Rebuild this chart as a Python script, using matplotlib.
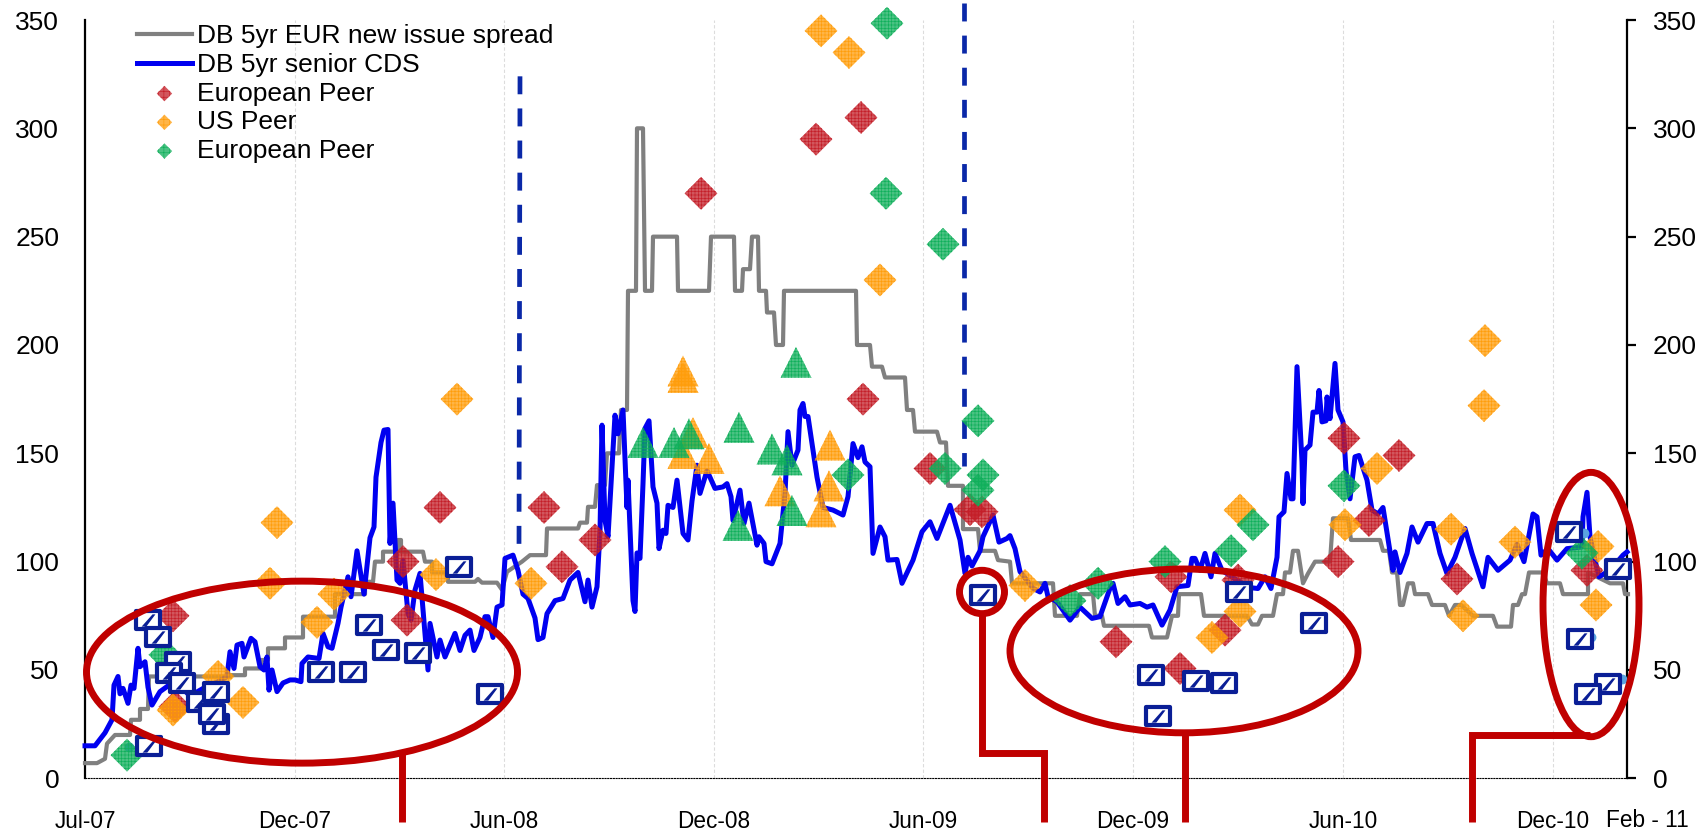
#!/usr/bin/env python3
"""DB 5yr funding spread vs CDS, with peer issuance markers (Jul-07 to Feb-11)."""

import matplotlib
matplotlib.use("Agg")
import matplotlib.pyplot as plt
from matplotlib.patches import Ellipse
from matplotlib.path import Path

plt.rcParams["font.family"] = ["Liberation Sans", "DejaVu Sans"]
plt.rcParams["hatch.linewidth"] = 0.45

# x is an observation index along the time axis, y is spread in bp
tick_pos = [0, 210, 419, 629, 838, 1048, 1258, 1468]
tick_labels = ["Jul-07", "Dec-07", "Jun-08", "Dec-08", "Jun-09", "Dec-09", "Jun-10", "Dec-10"]
y_ticks = [0, 50, 100, 150, 200, 250, 300, 350]

cds_x = [0, 10, 15, 20, 27, 29, 33, 35, 38, 43, 46, 49, 53, 55, 60, 63, 67, 75, 90, 105, 120, 135,
         142, 145, 149, 152, 157, 159, 166, 170, 175, 179, 182, 184, 187, 192, 198, 205, 210, 216,
         217, 223, 234, 238, 243, 247, 253, 256, 263, 266, 272, 279, 285, 289, 291, 296, 299, 303,
         305, 308, 312, 315, 318, 323, 326, 330, 335, 340, 343, 345, 352, 355, 360, 370, 375, 380,
         385, 389, 395, 400, 403, 408, 412, 417, 420, 428, 433, 438, 443, 450, 453, 458, 462, 470,
         478, 485, 493, 500, 503, 507, 512, 515, 517,
         520, 523, 530, 533, 538, 542, 543, 548, 550, 552, 555, 558, 560, 564, 568, 572, 574, 578,
         581, 583, 588, 592, 598, 603, 607, 612, 615, 622, 630, 638, 642, 646, 648, 655, 659, 664,
         672, 674, 679, 681, 687, 695, 700, 703, 707, 713, 715, 718, 720, 723, 728, 732, 738, 748,
         758, 763, 768, 773, 777, 780, 785, 788, 795, 800, 803, 812, 817, 828, 837, 845, 852, 865,
         875, 880, 883, 887, 895, 898, 908, 914, 922, 925, 930, 935, 948, 955, 960, 963, 972, 985,
         995, 1007, 1015, 1025, 1028, 1033, 1040, 1045, 1055, 1062, 1068, 1077, 1085, 1092, 1103,
         1107, 1110, 1115, 1120, 1126, 1130, 1137, 1150, 1165, 1173, 1180, 1186, 1192, 1194, 1199,
         1202, 1206, 1208, 1212, 1217, 1218, 1220, 1225, 1228, 1232, 1234, 1237, 1241, 1242, 1245,
         1250, 1253, 1258, 1261, 1265, 1270, 1274, 1282, 1287, 1293, 1298, 1308, 1310, 1315, 1322,
         1327, 1333, 1342, 1348, 1355, 1362, 1370, 1380, 1387, 1398, 1403, 1413, 1425, 1432, 1439,
         1448, 1452, 1456, 1463, 1472, 1482, 1497, 1498, 1502, 1505, 1510, 1514, 1525, 1538, 1542]
cds_y = [15, 15, 18, 21, 27, 43, 47, 39, 41.5, 34.6, 43, 41.5, 60, 51.5, 53.8, 42, 33.8, 40, 45, 38,
         42, 45, 47, 58.4, 50.7, 61.5, 62.3, 56, 64.6, 63, 51.5, 50, 56, 40.7, 50, 40, 44, 45.4,
         45.4, 44.6, 53, 56, 55.3, 66.9, 60.7, 60, 71.5, 79, 93, 83.8, 105, 85, 111, 116, 139, 155,
         160.7, 161, 108.4, 127, 91.5, 90, 100.7, 76, 73, 86.9, 94.6, 66.9, 50, 71.5, 56, 63.8, 56,
         66.9, 59, 66, 68.4, 59, 65, 74.6, 74.6, 65, 79, 80, 101.5, 103, 96, 85, 83, 74, 64, 65, 76, 82,
         83, 91.5, 95, 81.5, 91.5, 79, 88.4, 114, 163, 119, 111.5, 167.6, 159, 170, 125, 137.6, 82, 77,
         104, 101.5, 136, 161.5, 165, 134.5,
         127, 106, 114.5, 113, 126, 125, 137.6, 113, 110, 128, 144.5, 131.5, 142, 133.8, 134.5, 136,
         130, 119, 133, 117.6, 127, 107.6, 111.5, 108.4, 100, 99, 108.4, 131.5, 160, 144.5, 151.5,
         170, 173, 167, 167, 151.5, 139, 125, 123.8, 121.5, 130, 154.5, 148, 153, 146, 143.8, 103.8,
         116, 111.5, 100.7, 101, 90, 100.7, 113.8, 118.4, 110.7, 126, 110, 94.6, 102, 98, 105, 111.5,
         121.5, 109, 110.7, 112, 106, 95.4, 87.7, 86, 90, 83.8, 81.5, 73, 79, 73.8, 74.6, 87.7, 90,
         80.7, 83.8, 80, 80.7, 79, 80, 70.7, 77.7, 88.4, 89, 101.5, 101.5, 96, 103.8, 93, 103.8, 96,
         92, 88, 87.6, 93, 87.6, 102, 120.7, 123, 140.7, 129, 129, 190, 146, 126.8, 151.5, 153.8, 169,
         169, 179, 164.5, 165, 176, 166, 191.5, 170, 164.5, 142, 129, 148.4, 149, 137.6, 123.8, 122,
         125, 96, 104.5, 95, 103.8, 116, 109, 117.6, 117.6, 103.8, 94.5, 102, 115.3, 103.8, 88.4, 102,
         96, 100.7, 108, 100, 122, 120.7, 103, 106, 100.7, 106, 106.8, 120.7, 132, 111.5, 100.7, 93,
         96, 103, 104.5]

new_issue_x = [0, 12, 20, 22, 30, 45, 46, 55, 55, 63, 64, 145, 145, 160, 160, 176, 176, 183,
               183, 200, 200, 218, 218, 250, 250, 280, 280, 288, 290, 298, 298, 313, 313, 316, 316, 338, 340, 347, 347,
               363, 363, 390, 393,
               397, 412, 417, 422, 437, 445, 461, 462, 493, 495, 502, 503, 510, 512, 520, 522, 534,
               536, 542, 543, 551, 552, 558, 560, 567, 568, 592, 593, 624, 626, 649, 650, 657, 658,
               665, 667, 673, 674, 681, 682, 689, 691, 698, 699, 771, 772, 785, 787, 797, 800, 820,
               822, 828, 830, 852, 855, 861, 863, 878, 878, 893, 895, 910, 913, 925, 927, 968, 970,
               992, 995, 1008, 1010, 1017, 1019, 1064, 1067, 1082, 1087, 1093, 1094, 1116, 1119,
               1162, 1167, 1173, 1177, 1188, 1192, 1198, 1200, 1205, 1208, 1213, 1218, 1223, 1230,
               1245, 1248, 1263, 1266, 1295, 1298, 1304, 1307, 1312, 1315, 1318, 1323, 1328, 1330,
               1343, 1347, 1360, 1364, 1370, 1376, 1388, 1408, 1412, 1426, 1428, 1433, 1437, 1440,
               1444, 1458, 1462, 1475, 1478, 1503, 1503, 1525, 1538, 1540, 1543]
new_issue_y = [7, 7, 9, 16, 20, 20, 27, 27, 32, 32, 47, 47, 47.6, 47.6, 50.7, 50.7, 54.6, 54.6,
               60, 60, 65, 65, 74.6, 74.6, 85, 85, 90.7, 90.7, 100, 100, 104.6, 104.6, 110, 110, 104.6, 104.6, 100, 100, 95,
               95, 90.7, 90.7, 92, 90.3, 90.3, 87, 95.3, 100, 103, 103, 115.3, 115.3, 118, 118, 125.3, 125.3,
               135.3, 135.3, 150, 150, 170, 170, 225, 225, 300, 300, 225, 225, 250, 250, 225, 225, 250,
               250, 225, 225, 235, 235, 250, 250, 225, 225, 215, 215, 200, 200, 225, 225, 200, 200, 190,
               190, 185, 185, 170, 170, 160, 160, 155, 155, 135, 135, 115, 115, 105, 105, 100.7, 100, 90,
               90, 75, 75, 85, 85, 75, 75, 70.4, 70.4, 65, 65, 75, 75, 85, 85, 75, 75, 71, 71, 75, 75, 85,
               85, 95, 95, 105, 105, 90, 94.5, 100, 100, 120, 120, 110, 110, 105, 105, 95, 95, 80, 80, 90,
               90, 85, 85, 80, 80, 75, 80, 80, 75, 75, 70, 70, 80, 80, 85, 85, 95, 95, 90, 90, 85, 85, 95,
               90, 90, 85, 85]

euro_peer_x = [88, 90, 318, 322, 355, 510, 459, 477, 616, 731, 776, 778, 845, 885, 897, 1031, 1095,
               1086, 1153, 1140, 1259, 1314, 1284, 1253, 1372, 1502]
euro_peer_y = [75, 33, 100, 73, 125, 110, 125, 97.6, 270, 295, 305, 175, 143, 124, 123, 63, 50.7, 93,
               91.5, 68.4, 157, 149, 119, 100, 92, 96]
us_peer_x = [192, 185, 232, 249, 351, 372, 158, 133, 88, 446, 736, 764, 795, 940, 1155, 1127, 1155,
             1260, 1292, 1366, 1400, 1399, 1378, 1430, 1513, 1511]
us_peer_y = [118, 90, 72, 85, 94, 175, 35, 47, 31.5, 90, 345, 335, 230, 89, 77, 65, 123.8, 117, 143,
             115, 202, 172, 75, 109, 107, 80]
euro2_peer_x = [42, 80, 802, 801, 858, 893, 763, 860, 898, 893, 985, 1013, 1080, 1146, 1168, 1259, 1497]
euro2_peer_y = [10.7, 57, 348.5, 270, 246.5, 165, 140, 143, 140, 133, 82, 90, 100, 105, 117, 135, 104]

us_tri_x = [598, 598, 608, 598, 624, 695, 745, 744, 736]
us_tri_y = [188, 185, 159.6, 150, 147.6, 132.7, 153.8, 135, 123]
euro_tri_x = [558, 589, 604, 654, 687, 702, 711, 653, 707]
euro_tri_y = [155, 155, 159, 162, 152, 147, 192, 116.7, 123.6]

hidden_x = [44, 1506, 1499, 1537]
hidden_y = [14.6, 65, 113, 46]

# DB issuance, drawn in this order so later ones cover earlier ones
db_x = [64, 63, 73, 93, 84, 97, 115, 131, 131, 127, 236, 268, 284, 301, 333, 374, 405, 898, 1066, 1111,
        1139, 1073, 1154, 1229, 1484, 1495, 1533, 1523, 1503]
db_y = [15, 73, 65.4, 53.8, 48.7, 43.8, 35.3, 25, 40, 29.7, 49, 49, 70.7, 59, 58, 97.7, 39, 84.6, 47.7,
        44.9, 44, 28.7, 86, 71.5, 113.7, 64.5, 96.8, 43.7, 38.8]

RED = "#C00000"
NAVY = "#0A1E96"
FONT = 19
RED_M, ORANGE_M, GREEN_M = "#C41E28", "#FF9D0A", "#0FAF5A"

fig = plt.figure(figsize=(16.98, 8.33), dpi=100)
ax = fig.add_axes([85 / 1698, 1 - 778.3 / 833, 1542 / 1698, 758.3 / 833])
ax.set_xlim(0, 1542)
ax.set_ylim(0, 350)

for x in tick_pos[1:]:
    ax.axvline(x, color="#dcdcdc", lw=0.8, ls=(0, (3, 2)), zorder=1)

issue_line, = ax.plot(new_issue_x, new_issue_y, color="#808080", lw=3, solid_joinstyle="round", zorder=3,
                      clip_on=False)
cds_line, = ax.plot(cds_x, cds_y, color="#0000F0", lw=3.6, solid_joinstyle="round", zorder=4, clip_on=False)

# vertical dashed markers
ax.plot([435, 434], [324, 107.6], color="#0A28A8", lw=3.4, ls=(0, (3.8, 3)), zorder=4)
ax.plot([879, 879], [358, 144], color="#0A28A8", lw=3.4, ls=(0, (3.8, 3)), zorder=4, clip_on=False)

ax.scatter(hidden_x, hidden_y, s=50, color="#5BA3E0", linewidths=0, zorder=5, clip_on=False)


def peers(xs, ys, colour, marker, size):
    # semi transparent so the lines underneath show through the hatch
    return ax.scatter(xs, ys, s=size, marker=marker, facecolors=colour + "C0", edgecolors=colour,
                      hatch="+++++", linewidths=0, zorder=6, clip_on=False)


peers(euro_peer_x, euro_peer_y, RED_M, "D", 280)
peers(us_peer_x, us_peer_y, ORANGE_M, "D", 280)
peers(us_tri_x, us_tri_y, ORANGE_M, "^", 497)
peers(euro2_peer_x, euro2_peer_y, GREEN_M, "D", 280)
peers(euro_tri_x, euro_tri_y, GREEN_M, "^", 497)

logo_box = Path([(-1.25, -1), (1.25, -1), (1.25, 1), (-1.25, 1), (-1.25, -1)], closed=True)
logo_slash = Path([(-0.62, -0.55), (-0.2, -0.55), (0.62, 0.55), (0.36, 0.55), (-0.62, -0.55)], closed=True)
for i, (x, y) in enumerate(zip(db_x, db_y)):
    ax.scatter([x], [y], s=285, marker=logo_box, facecolors="white", edgecolors=NAVY, linewidths=3,
               zorder=7 + i * 0.01, clip_on=False)
    ax.scatter([x], [y], s=100, marker=logo_slash, color=NAVY, linewidths=0, zorder=7 + i * 0.01 + 0.005,
               clip_on=False)

# highlight ellipses and their connectors
for cx, cy, w, h in [(217, 49, 431, 84), (897, 86, 45, 20), (1099, 58.8, 348, 75.6), (1506, 80.2, 96, 122)]:
    ax.add_patch(Ellipse((cx, cy), w, h, fill=False, edgecolor=RED, lw=5, zorder=9, clip_on=False))
for xs, ys in [([317, 317], [12, -20]), ([897, 897, 959, 959], [76, 11.5, 11.5, -20]),
               ([1100, 1100], [21, -20]), ([1387, 1387, 1505], [-20, 20, 20])]:
    ax.plot(xs, ys, color=RED, lw=5, solid_joinstyle="miter", solid_capstyle="butt", zorder=9, clip_on=False)

ax.spines["top"].set_visible(False)
ax.spines["left"].set_linewidth(1.6)
ax.spines["right"].set_linewidth(1.6)
ax.spines["bottom"].set_linewidth(0.8)
ax.spines["bottom"].set_linestyle((0, (1, 1.5)))

ax.set_xticks(tick_pos, tick_labels)
ax.tick_params(axis="x", length=0, pad=23, labelsize=16.3)
ax.set_yticks(y_ticks)
ax.tick_params(axis="y", left=False, right=True, labelleft=True, labelright=True, length=6.5, width=1.6,
               labelsize=FONT, pad=12)
ax.text(1562, -19.6, "Feb - 11", ha="center", va="center", fontsize=16.3, clip_on=False)

handles = [issue_line, cds_line]
labels = ["DB 5yr EUR new issue spread", "DB 5yr senior CDS"]
for colour, name in [(RED_M, "European Peer"), (ORANGE_M, "US Peer"), (GREEN_M, "European Peer")]:
    handles.append(ax.scatter([], [], s=62, marker="D", facecolors=colour + "C0", edgecolors=colour,
                              hatch="+++", linewidths=0))
    labels.append(name)
ax.legend(handles, labels, loc="upper left", bbox_to_anchor=(137 / 1698, 1 - 24 / 833),
          bbox_transform=fig.transFigure, frameon=False, fontsize=FONT, labelspacing=0.18, handlelength=2.08,
          handletextpad=0.2, borderpad=0, borderaxespad=0, scatterpoints=1)

fig.savefig("out.png", dpi=100)
